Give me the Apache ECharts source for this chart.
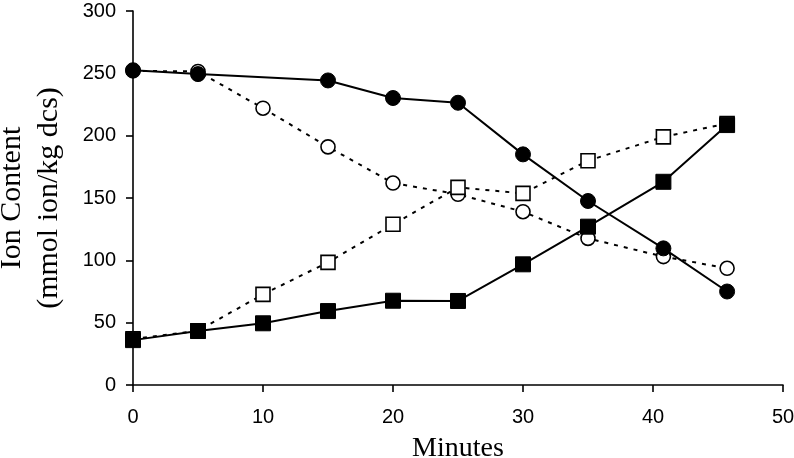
<!DOCTYPE html>
<html><head><meta charset="utf-8">
<script src="https://cdn.jsdelivr.net/npm/echarts@6/dist/echarts.min.js"></script>
<style>html,body{margin:0;padding:0;background:#fff}#c{width:794px;height:458px}</style>
</head><body><div id="c"></div>
<script>
const xTicks = [0, 10, 20, 30, 40, 50];
const yTicks = [0, 50, 100, 150, 200, 250, 300];
const minutesA = [0, 5, 15, 20, 25, 30, 35, 40.8, 45.7];
const filledCircle = [252.5, 249.4, 244.3, 230.2, 226.4, 185, 147.6, 109.6, 75];
const minutesB = [0, 5, 10, 15, 20, 25, 30, 35, 40.8, 45.7];
const openCircle = [252, 251.5, 222, 191, 162, 153, 139, 117.6, 103, 93.6];
const openSquare = [37, 43.5, 72.7, 98.4, 128.9, 158.5, 153.7, 179.9, 199, 209.8];
const filledSquare = [36, 43.3, 49.5, 59.3, 67.6, 67.4, 96.8, 127, 163, 208.5];

function pairs(xs, ys) { return xs.map((x, i) => [x, ys[i]]); }

const chart = echarts.init(document.getElementById('c'));
const solid = { color: '#000', width: 2, type: 'solid' };
const dotted = { color: '#000', width: 2, type: [4, 6] };
chart.setOption({
  animation: false,
  grid: { left: 133, right: 11, top: 11, bottom: 73, containLabel: false, outerBoundsMode: 'none' },
  xAxis: {
    type: 'value', min: xTicks[0], max: xTicks[xTicks.length - 1], interval: xTicks[1] - xTicks[0],
    name: 'Minutes', nameLocation: 'middle', nameGap: 50,
    nameTextStyle: { fontFamily: 'Liberation Serif', fontSize: 28, color: '#000' },
    axisLine: { lineStyle: { color: '#000', width: 1.6 } },
    axisTick: { inside: false, length: 7, lineStyle: { color: '#000', width: 1.6 } },
    axisLabel: { fontFamily: 'Liberation Sans', fontSize: 20, color: '#000', margin: 22 },
    splitLine: { show: false }
  },
  yAxis: {
    type: 'value', min: yTicks[0], max: yTicks[yTicks.length - 1], interval: yTicks[1] - yTicks[0],
    name: 'Ion Content\n(mmol ion/kg dcs)', nameLocation: 'middle', nameGap: 65, nameRotate: 90,
    nameTextStyle: { fontFamily: 'Liberation Serif', fontSize: 30, color: '#000', lineHeight: 37 },
    axisLine: { show: true, lineStyle: { color: '#000', width: 1.6 } },
    axisTick: { show: true, inside: false, length: 7, lineStyle: { color: '#000', width: 1.6 } },
    axisLabel: { fontFamily: 'Liberation Sans', fontSize: 20, color: '#000', margin: 17 },
    splitLine: { show: false }
  },
  series: [
    { type: 'line', data: pairs(minutesB, openCircle), symbol: 'circle', symbolSize: 14,
      lineStyle: dotted, itemStyle: { color: '#fff', borderColor: '#000', borderWidth: 1.6 }, z: 2 },
    { type: 'line', data: pairs(minutesB, openSquare), symbol: 'rect', symbolSize: 14,
      lineStyle: dotted, itemStyle: { color: '#fff', borderColor: '#000', borderWidth: 1.6 }, z: 2 },
    { type: 'line', data: pairs(minutesA, filledCircle), symbol: 'circle', symbolSize: 15,
      lineStyle: solid, itemStyle: { color: '#000', borderColor: '#000' }, z: 3 },
    { type: 'line', data: pairs(minutesB, filledSquare), symbol: 'rect', symbolSize: 15,
      lineStyle: solid, itemStyle: { color: '#000', borderColor: '#000' }, z: 3 }
  ]
});
</script></body></html>
